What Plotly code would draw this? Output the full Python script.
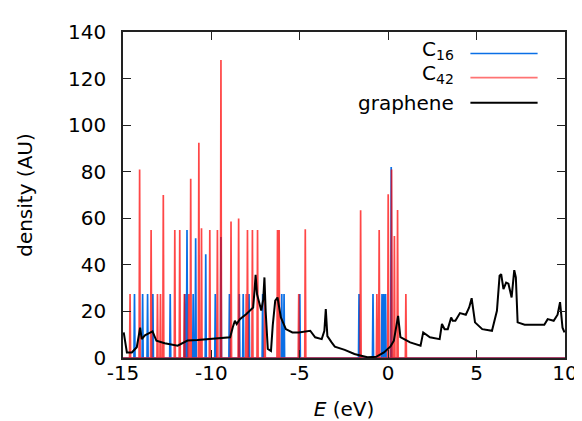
import plotly.graph_objects as go

# ---- data ----
graphene_E = [-14.96, -14.87, -14.78, -14.5, -14.22, -14.03, -13.94, -13.76, -13.33, -13.11,
              -12.64, -11.91, -11.35, -10.79, -8.94, -8.79, -8.67, -8.57, -8.39, -8.02,
              -7.64, -7.56, -7.5, -7.42, -7.18, -7.07, -7.0, -6.93, -6.81, -6.63,
              -6.53, -6.39, -6.26, -6.07, -5.79, -5.42, -5.06, -4.41, -4.13, -3.76,
              -3.61, -3.53, -3.44, -3.2, -3.02, -2.46, -1.91, -1.53, -1.17, -0.68,
              -0.24, 0.13, 0.32, 0.56, 0.69, 1.24, 1.83, 1.98, 2.36, 2.91,
              3.04, 3.19, 3.37, 3.56, 3.65, 3.8, 4.06, 4.39, 4.58, 4.72,
              4.91, 5.32, 5.87, 6.15, 6.3, 6.39, 6.52, 6.67, 6.8, 6.98,
              7.13, 7.22, 7.32, 7.72, 8.83, 9.02, 9.36, 9.58, 9.72, 9.86, 9.97]
graphene_D = [11, 5.4, 2.4, 2.4, 4.6, 13, 8.1, 9.7, 11.4, 7.4,
              6.3, 5.3, 7.5, 7.7, 8.9, 13.2, 16, 14.6, 16.7, 18.9,
              21.7, 28.9, 35.7, 27.4, 20.4, 25, 34.6, 20, 3.9, 3,
              14, 24.6, 26, 17.4, 12.4, 11, 11, 11.7, 8.9, 8.1,
              11.7, 21, 9.4, 6.7, 4.9, 3.5, 1.7, 1, 0.3, 0.5,
              2.4, 5, 7.4, 18.1, 9, 6.7, 5.3, 11, 8.9, 8.1,
              14.6, 12.4, 12.4, 17.4, 16, 16, 19.3, 18.6, 21.7, 25.7,
              15.3, 12.4, 11.7, 20.3, 35.3, 36, 29.6, 32.4, 31.9, 26,
              37.7, 34.6, 15.3, 14.3, 14.3, 16.7, 16, 18.6, 24, 13, 11]

c16_E = [-14.35, -13.89, -13.61, -13.31, -12.33, -11.50, -11.38, -11.03, -10.89, -10.32,
         -9.78, -9.46, -8.98, -8.42, -8.20, -7.87, -7.10, -6.02, -5.89, -5.00,
         -1.65, -0.86, -0.35, -0.25, -0.15, 0.17]
c16_D = [27.5, 27.5, 27.5, 27.5, 27.5, 27.5, 55, 27.5, 51.4, 44.6,
         27.5, 52, 27.5, 27.5, 27.5, 27.5, 27.5, 27.5, 27.5, 27.5,
         27.5, 27.5, 27.5, 27.5, 27.5, 82]

c42_E = [-14.60, -14.06, -13.41, -13.05, -12.88, -12.72, -12.07, -11.79, -11.53, -11.28,
         -11.17, -10.71, -10.56, -10.09, -9.66, -9.46, -8.89, -8.46, -8.03, -7.96,
         -7.68, -7.39, -6.98, -6.26, -6.17, -5.06, -4.69, -1.56, -0.64, -0.51,
         0.00, 0.19, 0.35, 0.53, 1.00]
c42_D = [27.5, 81, 55, 27.5, 27.5, 70, 55, 55, 27.5, 27.5,
         77, 92.4, 55.7, 55, 55, 128, 58.6, 59.9, 27.5, 55,
         55, 55, 27.5, 55, 55, 27.5, 55.3, 63.4, 27.5, 55,
         70.3, 81, 52.4, 63.6, 27.5]

x_ticks = [-15, -10, -5, 0, 5, 10]
y_ticks = [0, 20, 40, 60, 80, 100, 120, 140]
names = ["C<sub>16</sub>", "C<sub>42</sub>", "graphene"]

BLUE = "#0a6fe6"
RED = "rgba(255,0,0,0.72)"
FONT = "DejaVu Sans"


def spikes(E, D, hw=0.03):
    xs, ys = [-15.5], [0]
    for e, d in sorted(zip(E, D)):
        xs += [e - hw, e, e + hw]
        ys += [0, d, 0]
    xs.append(10.5)
    ys.append(0)
    return xs, ys


fig = go.Figure()
bx, by = spikes(c16_E, c16_D)
fig.add_trace(go.Scatter(x=bx, y=by, mode="lines", name="C16",
                         line=dict(color=BLUE, width=1.7), showlegend=False))
rx, ry = spikes(c42_E, c42_D)
fig.add_trace(go.Scatter(x=rx, y=ry, mode="lines", name="C42",
                         line=dict(color=RED, width=1.7), showlegend=False))
fig.add_trace(go.Scatter(x=graphene_E, y=graphene_D, mode="lines", name="graphene",
                         line=dict(color="black", width=2), showlegend=False))

# custom legend (text left of line sample)
leg_y = [0.934, 0.860, 0.783]
text_y = [0.944, 0.870, 0.783]
leg_col = [BLUE, "rgba(255,0,0,0.55)", "black"]
for nm, yy, ty, col in zip(names, leg_y, text_y, leg_col):
    fig.add_annotation(x=0.753, y=ty, xref="paper", yref="paper", text=nm,
                       showarrow=False, xanchor="right", yanchor="middle",
                       font=dict(family=FONT, size=20, color="black"))
    fig.add_shape(type="line", xref="paper", yref="paper", x0=0.786, x1=0.938,
                  y0=yy, y1=yy, line=dict(color=col, width=1.6 if col != "black" else 2))

axis_common = dict(showline=True, linecolor="#222", linewidth=1.5, mirror="ticks",
                   ticks="inside", ticklen=8, tickwidth=1.3, tickcolor="#222",
                   showgrid=False, zeroline=False,
                   tickfont=dict(family=FONT, size=20, color="black"))

fig.update_layout(
    width=582, height=421,
    margin=dict(l=115, r=18, t=23, b=70),
    plot_bgcolor="white", paper_bgcolor="white",
    xaxis=dict(range=[-15, 10], tickvals=x_ticks, ticktext=[str(v) for v in x_ticks],
               ticklabelstandoff=-4,
               title=dict(text="<i>E</i> (eV)", font=dict(family=FONT, size=20, color="black"),
                          standoff=18),
               **axis_common),
    yaxis=dict(range=[0, 140], tickvals=y_ticks, ticktext=[str(v) for v in y_ticks],
               ticklabelstandoff=11,
               title=dict(text="density (AU)", font=dict(family=FONT, size=20, color="black"),
                          standoff=30),
               **axis_common),
)

fig.write_html("out.html")
